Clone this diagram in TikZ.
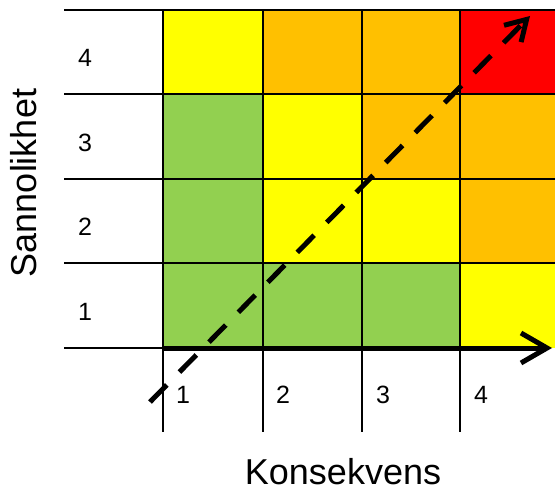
\documentclass[tikz,border=0pt]{standalone}
\usepackage{fontspec}
\setmainfont{Liberation Sans}
\usetikzlibrary{arrows.meta}
\definecolor{cgreen}{HTML}{92D050}
\definecolor{cyellow}{HTML}{FFFF00}
\definecolor{corange}{HTML}{FFC000}
\definecolor{cred}{HTML}{FF0000}
\begin{document}
\begin{tikzpicture}[x=1pt,y=-1pt,
  cell/.style={inner sep=0pt, outer sep=0pt, minimum width=99.5pt, minimum height=84.5pt, anchor=north west},
  lastcell/.style={cell, minimum width=95pt},
  gridline/.style={line width=2pt},
  num/.style={font=\fontsize{25}{29}\selectfont, anchor=base west, inner sep=0pt},
  axislabel/.style={font=\fontsize{36}{42}\selectfont, inner sep=0pt, anchor=base, text depth=0pt},
  arrowline/.style={line width=5pt}]
\useasboundingbox (0,0) rectangle (555,492);
% row 4
\node[cell,fill=cyellow] (c41) at (163,10) {};
\node[cell,fill=corange] (c42) at (262.5,10) {};
\node[cell,fill=corange] (c43) at (362,10) {};
\node[lastcell,fill=cred] (c44) at (460,10) {};
% row 3
\node[cell,fill=cgreen] (c31) at (163,94.5) {};
\node[cell,fill=cyellow] (c32) at (262.5,94.5) {};
\node[cell,fill=corange] (c33) at (362,94.5) {};
\node[lastcell,fill=corange] (c34) at (460,94.5) {};
% row 2
\node[cell,fill=cgreen] (c21) at (163,179) {};
\node[cell,fill=cyellow] (c22) at (262.5,179) {};
\node[cell,fill=cyellow] (c23) at (362,179) {};
\node[lastcell,fill=corange] (c24) at (460,179) {};
% row 1
\node[cell,fill=cgreen] (c11) at (163,263.5) {};
\node[cell,fill=cgreen] (c12) at (262.5,263.5) {};
\node[cell,fill=cgreen] (c13) at (362,263.5) {};
\node[lastcell,fill=cyellow] (c14) at (460,263.5) {};
% grid lines
\foreach \yy in {10,94.5,179,263.5} \draw[gridline] (64,\yy) -- (555,\yy);
\draw[gridline] (64,348) -- (163,348);
\foreach \xx in {163,262.5,362,460} \draw[gridline] (\xx,10) -- (\xx,432);
% row labels
\node[num] (r4) at (78,67) {4};
\node[num] (r3) at (78,151.5) {3};
\node[num] (r2) at (78,236) {2};
\node[num] (r1) at (78,320) {1};
% column labels
\node[num] (k1) at (176,403) {1};
\node[num] (k2) at (276,403) {2};
\node[num] (k3) at (376,403) {3};
\node[num] (k4) at (474,403) {4};
% axis titles
\node[axislabel] (xt) at (343,484) {Konsekvens};
\node[axislabel, rotate=90] (yt) at (36,183) {Sannolikhet};
% arrows
\coordinate (hs) at (163,348);
\coordinate (he) at (552,348);
\coordinate (ds) at (150,402);
\coordinate (de) at (530,16);
\draw[arrowline, -{Straight Barb[length=26pt,width=30pt]}] (hs) -- (he);
\draw[arrowline, dash pattern=on 24pt off 18pt, -{Straight Barb[length=20pt,width=24pt]}] (ds) -- (de);
\end{tikzpicture}
\end{document}
